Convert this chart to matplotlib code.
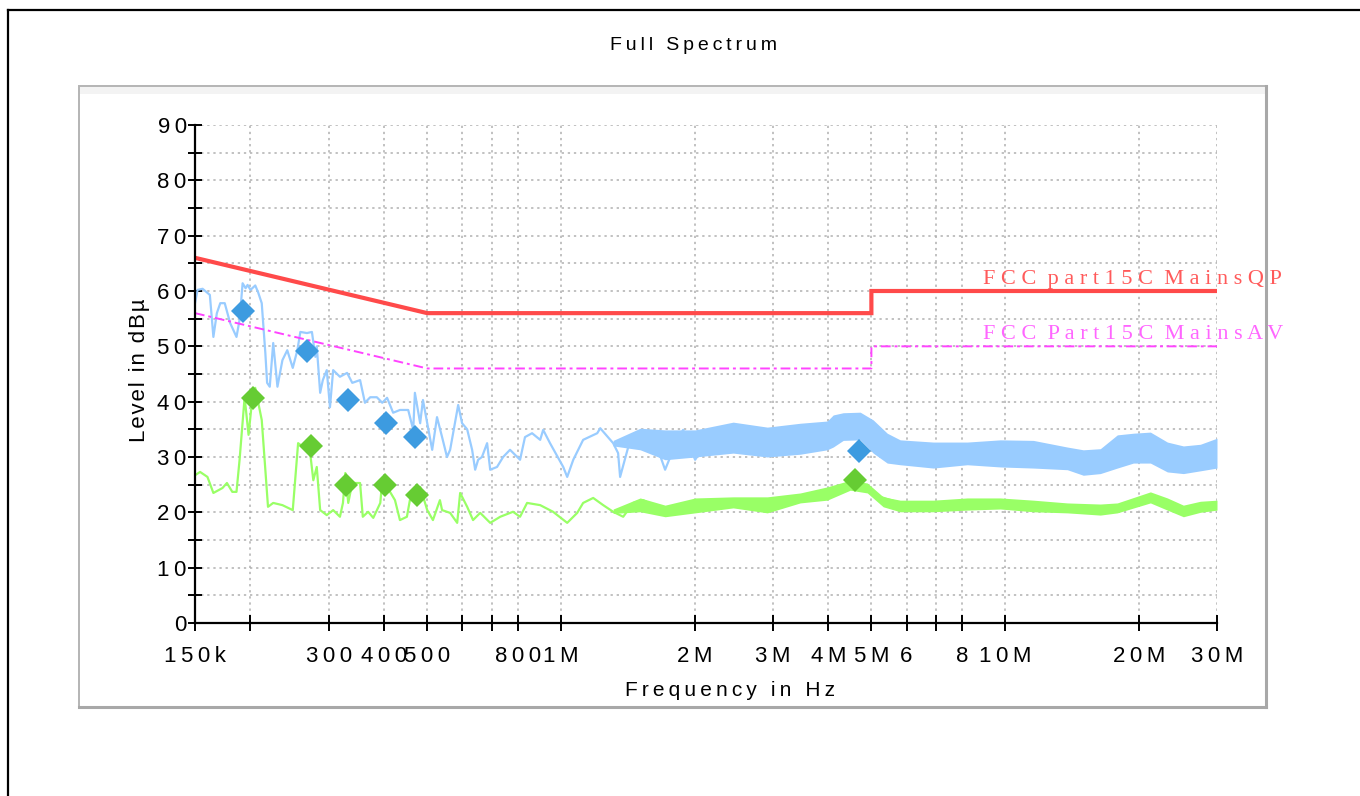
import numpy as np
import matplotlib
matplotlib.use('Agg')
import matplotlib.pyplot as plt
from matplotlib.patches import Rectangle
from matplotlib.lines import Line2D

plt.rcParams['font.family'] = ['Liberation Sans', 'DejaVu Sans']

# limit lines (kHz, dBuV)
qp_lim_f = [150, 500, 5000, 5000, 30000]
qp_lim_db = [66, 56, 56, 60, 60]
av_lim_f = [150, 500, 5000, 5000, 30000]
av_lim_db = [56, 46, 46, 50, 50]

# peak trace (blue)
blue_f = [150, 152, 156, 162, 165, 168, 171, 175, 180, 186, 189, 192, 195, 197, 200, 205, 208, 212, 216, 218,
          221, 225, 230, 236, 242, 249, 255, 259, 268, 275, 280, 282, 287, 291, 297, 302, 307, 318, 330, 339,
          353, 362, 372, 385, 396, 406, 419, 434, 453, 465, 469, 482, 489, 500, 513, 526, 540, 554, 563, 587,
          599, 615, 631, 641, 651, 664, 682, 693, 718, 741, 768, 809, 830, 861, 898, 912, 945, 1012, 1033, 1066,
          1122, 1207, 1226, 1311, 1345, 1359, 1432, 1508, 1564, 1613, 1655, 1716, 1827, 1884, 2005, 2168, 2442,
          2709, 3068, 3457, 3776, 3977, 4188, 4481, 5048, 5316, 5805]
blue_db = [57.8, 60.2, 60.4, 59.3, 51.7, 56.0, 57.8, 57.8, 54.2, 51.7, 54.8, 61.4, 60.5, 61.1, 60.2, 61.0, 59.8, 57.8, 48.8, 43.4,
           42.7, 50.6, 42.7, 47.5, 49.3, 46.1, 49.3, 52.6, 52.4, 52.6, 48.1, 50.0, 41.6, 43.9, 45.7, 39.0, 45.7, 44.5, 45.2, 43.4,
           43.9, 39.8, 40.8, 40.8, 39.8, 40.7, 38.0, 38.5, 38.5, 34.9, 41.6, 36.1, 40.3, 36.1, 31.3, 37.2, 33.6, 30.0, 31.3, 39.4,
           36.1, 35.0, 31.3, 27.7, 29.5, 30.0, 32.5, 27.7, 28.2, 30.0, 31.3, 29.5, 33.6, 34.3, 33.1, 34.9, 32.5, 28.2, 26.4, 29.5,
           33.1, 34.3, 35.2, 32.5, 30.7, 26.4, 33.1, 33.6, 34.5, 32.5, 31.3, 27.7, 33.1, 34.9, 29.5, 33.6, 35.4,
           33.6, 33.1, 33.6, 34.9, 36.1, 37.0, 37.2, 34.9, 33.4, 31.8]
# dense part of the peak trace: upper / lower envelope
blue_band_f = [1311, 1508, 1716, 2005, 2442, 2915, 3457, 3977, 4103, 4321, 4719, 5048, 5428, 5805, 6891,
               8219, 9754, 11577, 13806, 15000, 16383, 17895, 19446, 21238, 23194, 25203, 27516, 30000]
blue_band_hi = [33.0, 35.2, 34.9, 34.9, 36.3, 35.4, 36.1, 36.5, 37.6, 38.0, 38.1, 36.7, 34.3, 33.1, 32.7,
                32.7, 33.1, 33.0, 31.8, 31.3, 31.5, 34.0, 34.3, 34.5, 32.7, 32.0, 32.3, 33.4]
blue_band_lo = [32.0, 31.3, 29.5, 30.0, 30.7, 30.0, 30.5, 31.3, 31.8, 33.0, 33.1, 30.7, 28.9, 28.6, 28.0,
                28.6, 28.2, 28.0, 27.7, 26.7, 27.0, 28.0, 28.9, 28.9, 27.3, 27.0, 27.5, 28.0]

# average trace (green)
green_f = [150, 154, 160, 165, 173, 177, 182, 186, 189, 194, 198, 202, 205, 212, 216, 219, 225, 236, 249, 256,
           263, 272, 277, 282, 287, 297, 307, 318, 323, 327, 332, 339, 353, 358, 368, 378, 392, 396, 406, 423,
           434, 450, 457, 465, 482, 500, 515, 534, 540, 563, 584, 593, 615, 634, 658, 693, 730, 780, 809, 839,
           898, 960, 1033, 1088, 1122, 1182, 1245, 1311, 1381, 1454, 1531, 1613, 1699, 1884, 1954, 2026, 2202,
           2442, 2667, 2915, 3457, 3776, 4103, 4412, 4895, 5234, 5805]
green_db = [26.7, 27.3, 26.4, 23.5, 24.4, 25.3, 23.7, 23.7, 29.5, 40.8, 34.0, 40.8, 42.5, 36.7, 27.7, 21.0, 21.7, 21.3, 20.4, 32.5,
            31.8, 31.3, 25.8, 28.2, 20.4, 19.5, 20.4, 19.2, 21.7, 27.1, 21.7, 25.3, 25.3, 19.2, 20.1, 19.0, 21.7, 25.8, 24.6, 22.2,
            18.6, 19.2, 22.2, 22.2, 24.6, 20.4, 18.6, 22.2, 20.4, 19.9, 18.1, 23.5, 21.0, 18.6, 19.9, 18.1, 19.2, 20.1, 19.2, 21.7,
            21.3, 20.1, 18.1, 19.9, 21.7, 22.6, 21.3, 20.1, 19.2, 21.7, 22.2, 21.3, 19.9, 20.8, 21.9, 20.1, 21.7,
            21.9, 22.2, 21.7, 22.6, 23.1, 24.0, 25.3, 24.5, 22.8, 21.7]
green_band_f = [1311, 1508, 1716, 2005, 2442, 2915, 3457, 3977, 4481, 4895, 5316, 5805, 6891,
                8219, 9754, 11577, 13806, 16383, 17895, 21238, 23194, 25203, 27516, 30000]
green_band_hi = [20.6, 22.6, 21.3, 22.6, 22.8, 22.8, 23.5, 24.6, 25.8, 25.3, 22.8, 22.2, 22.2,
                 22.6, 22.6, 22.2, 21.7, 21.5, 21.7, 23.7, 22.6, 21.3, 22.0, 22.2]
green_band_lo = [19.8, 20.1, 19.2, 19.9, 20.8, 19.9, 21.7, 22.2, 24.0, 23.5, 21.0, 20.1, 20.1,
                 20.4, 20.6, 20.1, 19.9, 19.5, 19.9, 21.7, 20.4, 19.2, 20.0, 20.4]

# final measurement points
qp_mark_f = [192, 268, 332, 404, 469, 4690]
qp_mark_db = [56.4, 49.2, 40.3, 36.1, 33.6, 31.1]
av_mark_f = [203, 274, 328, 402, 474, 4600]
av_mark_db = [40.7, 32.0, 24.9, 24.9, 23.1, 25.8]

xtick_khz = [150, 200, 300, 400, 500, 600, 700, 800, 1000, 2000, 3000, 4000, 5000, 6000, 7000, 8000, 10000, 20000, 30000]
xtick_labels = ['150k', '', '300', '400', '500', '', '', '800', '1M', '2M', '3M', '4M', '5M', '6', '', '8', '10M', '20M', '30M']
ytick_vals = [0, 5, 10, 15, 20, 25, 30, 35, 40, 45, 50, 55, 60, 65, 70, 75, 80, 85, 90]


def spaced(s, sep='\u2009'):
    return sep.join(s)


def hz(v):
    return np.array(v) * 1e3


W, H = 1360, 796
fig = plt.figure(figsize=(W / 100, H / 100), dpi=100)

# page frame + panel
fig.add_artist(Line2D([8 / W, 1], [1 - 10 / H, 1 - 10 / H], color='black', lw=1.6, zorder=-2))
fig.add_artist(Line2D([8 / W, 8 / W], [0, 1 - 10 / H], color='black', lw=1.6, zorder=-2))
fig.add_artist(Rectangle((79 / W, 1 - 707 / H), (1266 - 79) / W, (707 - 86) / H, transform=fig.transFigure,
                         facecolor='white', edgecolor='#b4b4b4', lw=1.4, zorder=-1))
fig.add_artist(Rectangle((80 / W, 1 - 94 / H), (1265 - 80) / W, 7 / H, transform=fig.transFigure,
                         facecolor='#f3f3f3', edgecolor='none', zorder=-1))
fig.add_artist(Line2D([1266 / W, 1266 / W], [1 - 707 / H, 1 - 86 / H], color='#a8a8a8', lw=2.2, zorder=-1))
fig.add_artist(Line2D([79 / W, 1266 / W], [1 - 707 / H, 1 - 707 / H], color='#a8a8a8', lw=2.2, zorder=-1))

ax = fig.add_axes([195 / W, 1 - 623 / H, (1217 - 195) / W, (623 - 125) / H])
ax.set_facecolor('none')
ax.set_xscale('log')
ax.set_xlim(150e3, 30e6)
ax.set_ylim(0, 90)

blue = '#99ccff'
green = '#99ff66'
ax.fill_between(hz(blue_band_f), blue_band_lo, blue_band_hi, color=blue, lw=0, zorder=2)
ax.plot(hz(blue_f), blue_db, color=blue, lw=1.6, zorder=2)
ax.fill_between(hz(green_band_f), green_band_lo, green_band_hi, color=green, lw=0, zorder=2)
ax.plot(hz(green_f), green_db, color=green, lw=1.6, zorder=2)

ax.plot(hz(qp_lim_f), qp_lim_db, color='#ff4a4a', lw=3, zorder=3, solid_joinstyle='miter')
ax.plot(hz(av_lim_f), av_lim_db, color='#ff44ff', lw=1.4, ls=(0, (5, 2, 1.5, 2)), zorder=3)

ax.plot(hz(qp_mark_f), qp_mark_db, 'D', color='#3d9be0', ms=12, mew=0, zorder=4)
ax.plot(hz(av_mark_f), av_mark_db, 'D', color='#66cc33', ms=12, mew=0, zorder=4)

ax.text(8.93e6, 62.0, 'F C C  p a r t 1 5 C  M a i n s Q P', color='#ff5a5a', fontsize=16,
        family='Liberation Serif', ha='left', va='center', clip_on=False)
ax.text(8.93e6, 52.1, 'F C C  P a r t 1 5 C  M a i n s A V', color='#ff66ff', fontsize=16,
        family='Liberation Serif', ha='left', va='center', clip_on=False)

ax.set_xticks(hz(xtick_khz))
ax.set_xticklabels([spaced(l) for l in xtick_labels])
ax.xaxis.set_minor_locator(matplotlib.ticker.NullLocator())
ax.set_yticks(ytick_vals)
ax.set_yticklabels([spaced(str(v)) if v % 10 == 0 else '' for v in ytick_vals])
ax.tick_params(axis='x', direction='inout', length=11, width=1.4, labelsize=16, pad=11, color='black')
ax.tick_params(axis='y', direction='inout', length=10, width=1.4, labelsize=16, pad=1, color='black')
ax.grid(True, color='#b0b0b0', ls=(0, (1.5, 2.5)), lw=1.1)
ax.set_axisbelow(True)
for s in ['top', 'right']:
    ax.spines[s].set_visible(False)
for s in ['left', 'bottom']:
    ax.spines[s].set_linewidth(1.6)
    ax.spines[s].set_zorder(5)

fig.text(693 / W, 1 - 46 / H, spaced('Full Spectrum'), ha='center', va='center', fontsize=14)
fig.text(730 / W, 1 - 691 / H, spaced('Frequency in Hz'), ha='center', va='center', fontsize=15)
fig.text(140 / W, 1 - 370 / H, spaced('Level in dBµ', '\u200a'), ha='center', va='center',
         rotation=90, fontsize=16)

fig.savefig('out.png', dpi=100)
